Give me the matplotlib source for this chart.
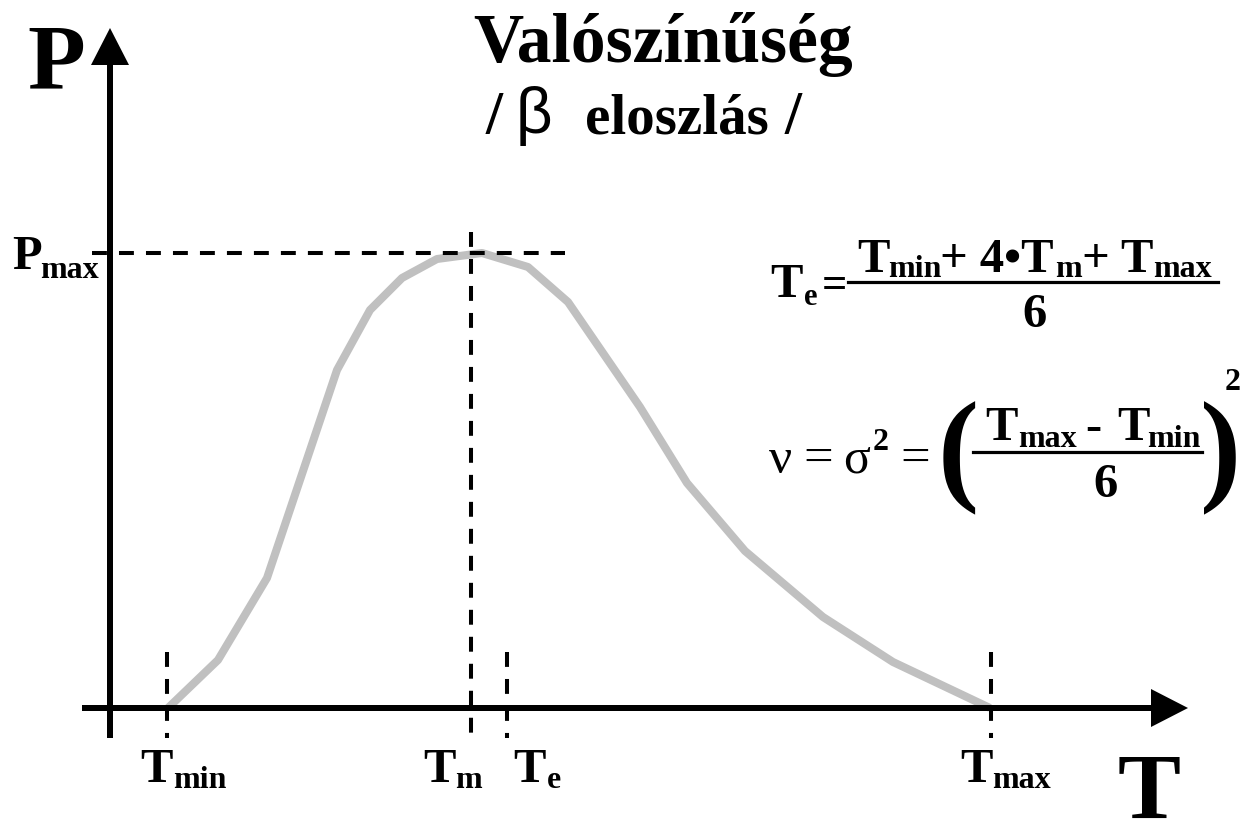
import matplotlib.pyplot as plt
from matplotlib.lines import Line2D

plt.rcParams['font.family'] = ['Liberation Serif', 'DejaVu Serif']

# beta-distribution curve (origin = axis crossing)
T = [58, 108, 157, 227, 260, 292, 327, 372, 418, 458, 530, 577, 635, 713, 783, 880]
P = [0, 48, 130, 338, 398, 430, 449, 455, 441, 406, 301, 225, 157, 91, 46, 0]

T_min, T_m, T_e, T_max = 57, 361, 397, 881
P_max = 455

W, H = 1250, 827
fig = plt.figure(figsize=(W / 100, H / 100), dpi=100)
ax = fig.add_axes([0, 0, 1, 1])
ax.set_xlim(-110, W - 110)
ax.set_ylim(-(H - 708), 708)
ax.axis('off')

# curve
ax.plot(T, P, color='#c0c0c0', lw=5.8, solid_capstyle='butt', solid_joinstyle='round', zorder=2)

# axes with arrows
ax.arrow(0, -30, 0, 710, width=6, head_width=38, head_length=37,
         length_includes_head=True, fc='k', ec='none', zorder=3)
ax.arrow(-28, 0, 1106, 0, width=6, head_width=38, head_length=37,
         length_includes_head=True, fc='k', ec='none', zorder=3)

# dashed guides
dash = dict(color='k', lw=2.9, dashes=(3.7, 3.0), zorder=4)
ax.plot([-18, 455], [P_max, P_max], **dash)
ax.plot([T_m, T_m], [P_max + 21, -30], **dash)
for t in (T_min, T_e, T_max):
    ax.plot([t, t], [56, -30], **dash)


def put(x, y, s, size, weight='bold', **kw):
    fig.text(x / W, 1 - y / H, s, fontsize=size, fontweight=weight,
             va='baseline', **kw)


def bar(x0, x1, y, lw=2.3):
    fig.add_artist(Line2D([x0 / W, x1 / W], [1 - y / H] * 2, lw=lw, color='k',
                          transform=fig.transFigure))


# title
put(663, 62, 'Valószínűség', 50, ha='center')
put(486, 133, '/', 44)
put(516, 133, 'β', 46, weight='normal', family='Liberation Sans')
put(585, 133, 'eloszlás', 41)
put(785, 133, '/', 44)

# axis names
put(27, 88, 'P', 68)
put(1118, 818, 'T', 68)

# P max label
put(12, 269, 'P', 35)
put(40, 278, 'max', 23)

# T labels
for x, sub, xs in [(140, 'min', 173), (423, 'm', 455), (513, 'e', 547), (960, 'max', 992)]:
    put(x, 782, 'T', 35)
    put(xs, 788, sub, 23)

# T_e formula
put(770, 297, 'T', 35)
put(804, 305, 'e', 22)
put(822, 297, '=', 32)
bar(848, 1218, 282)
put(857, 272, 'T', 35)
put(888, 277, 'min', 23)
put(940, 272, '+ 4•T', 35)
put(1055, 277, 'm', 23)
put(1082, 272, '+ T', 35)
put(1153, 277, 'max', 23)
put(1022, 327, '6', 35)

# variance formula
put(769, 473, 'ν', 37, weight='normal')
put(803, 473, '=', 38, weight='normal')
put(843, 473, 'σ', 36, weight='normal')
put(873, 450, '2', 23)
put(900, 473, '=', 38, weight='normal')
put(938, 488, '(', 89)
put(1200, 488, ')', 89)
put(1225, 390, '2', 23)
bar(973, 1202, 452)
put(985, 440, 'T', 35)
put(1018, 447, 'max', 23)
put(1085, 440, '-', 35)
put(1117, 440, 'T', 35)
put(1147, 447, 'min', 23)
put(1093, 497, '6', 35)

fig.savefig('out.png', dpi=100)
